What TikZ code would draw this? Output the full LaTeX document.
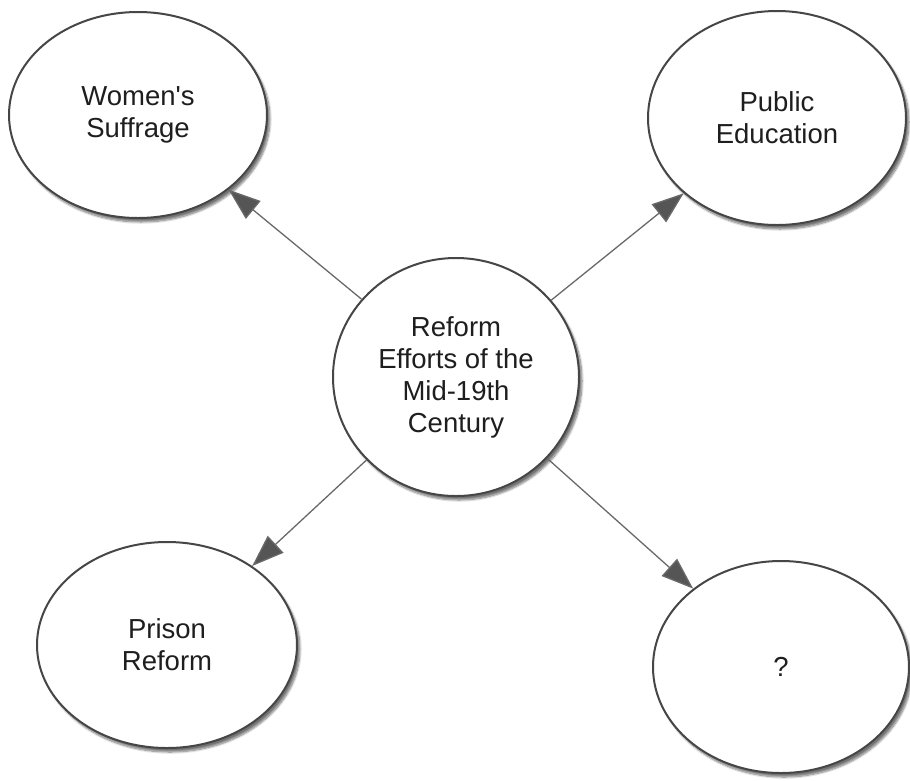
\documentclass[tikz,border=0pt]{standalone}
\usepackage{fontspec}
\setmainfont{Liberation Sans}
\usepackage{tikz}
\usetikzlibrary{arrows.meta, shapes.geometric, shadows.blur}
\definecolor{rimgray}{RGB}{70,70,70}
\definecolor{linkgray}{RGB}{105,105,105}
\definecolor{headgray}{RGB}{85,85,85}
\definecolor{textgray}{RGB}{30,30,30}

\tikzset{
  topic/.style={ellipse, draw=rimgray, line width=2pt, fill=white, inner sep=0pt,
    align=center, text=textgray, font=\fontsize{27.5}{32}\selectfont,
    blur shadow={shadow xshift=3pt, shadow yshift=-4pt, shadow opacity=55, shadow blur steps=8}},
  link/.style={draw=linkgray, line width=1.3pt, -{Triangle[length=32pt, width=23pt, fill=headgray]}}
}

\begin{document}
\begin{tikzpicture}[x=1pt, y=-1pt]
  \useasboundingbox (0,0) rectangle (910,780);

  % Center topic
  \node[topic, minimum width=246pt, minimum height=238pt] (reform) at (456,377)
    {Reform\\Efforts of the\\Mid-19th\\Century};

  % Outer topics
  \node[topic, minimum width=258pt, minimum height=206pt] (suffrage) at (138,115) {Women\textquotesingle s\\Suffrage};
  \node[topic, minimum width=258pt, minimum height=214pt] (education) at (777,118) {Public\\Education};
  \node[topic, minimum width=260pt, minimum height=206pt] (prison) at (167,645) {Prison\\Reform};
  \node[topic, minimum width=256pt, minimum height=212pt] (unknown) at (781,667) {?};

  % Links out from the center
  \draw[link] (reform) -- (suffrage);
  \draw[link] (reform) -- (education);
  \draw[link] (reform) -- (prison);
  \draw[link] (reform) -- (unknown);
\end{tikzpicture}
\end{document}
